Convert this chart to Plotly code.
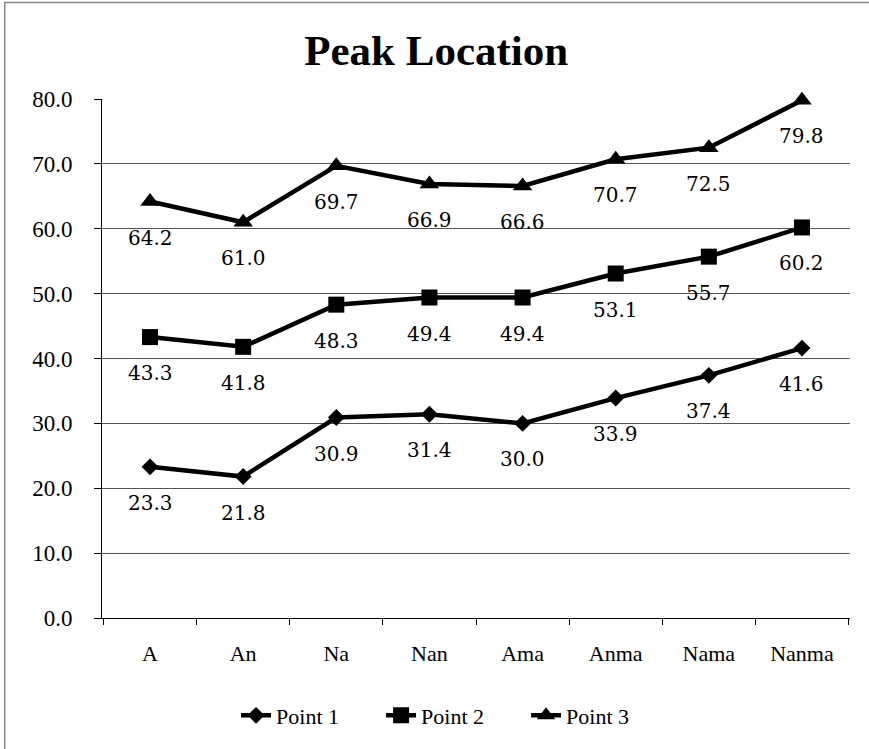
import plotly.graph_objects as go

categories = ["A", "An", "Na", "Nan", "Ama", "Anma", "Nama", "Nanma"]
point1 = [23.3, 21.8, 30.9, 31.4, 30.0, 33.9, 37.4, 41.6]
point2 = [43.3, 41.8, 48.3, 49.4, 49.4, 53.1, 55.7, 60.2]
point3 = [64.2, 61.0, 69.7, 66.9, 66.6, 70.7, 72.5, 79.8]
series_names = ["Point 1", "Point 2", "Point 3"]
y_ticks = [0, 10, 20, 30, 40, 50, 60, 70, 80]

series = [point1, point2, point3]
symbols = ["diamond", "square", "triangle-up"]
sizes = [13, 16, 17]

fig = go.Figure()
for name, vals, sym, sz in zip(series_names, series, symbols, sizes):
    fig.add_trace(go.Scatter(
        x=categories, y=vals, name=name, mode="lines+markers",
        line=dict(color="black", width=4.5),
        marker=dict(symbol=sym, size=sz, color="black"),
        cliponaxis=False, hoverinfo="x+y",
    ))

annotations = []
for vals in series:
    for c, v in zip(categories, vals):
        annotations.append(dict(
            x=c, y=v, xref="x", yref="y", text=f"{v:.1f}", showarrow=False,
            yshift=-36, font=dict(family="DejaVu Serif, serif", size=20, color="black"),
        ))

fig.update_layout(
    width=869, height=749,
    margin=dict(l=102, r=19, t=99, b=129),
    paper_bgcolor="white", plot_bgcolor="white",
    title=dict(text="<b>Peak Location</b>", x=0.502, xanchor="center",
               y=1 - 50 / 749, yanchor="middle", yref="container",
               font=dict(family="Liberation Serif, serif", size=43, color="black")),
    showlegend=True,
    legend=dict(orientation="h", x=0.47, xanchor="center", y=-0.188, yanchor="middle",
                font=dict(family="Liberation Serif, serif", size=22, color="black"),
                entrywidth=100, entrywidthmode="pixels",
                bgcolor="rgba(0,0,0,0)"),
    annotations=annotations,
    shapes=[dict(type="rect", xref="paper", yref="paper",
                 x0=-0.13, x1=1.2, y0=-0.3, y1=1.186,
                 line=dict(color="#888888", width=1.5), fillcolor="rgba(0,0,0,0)",
                 layer="below")],
)

fig.update_xaxes(
    type="category", categoryorder="array", categoryarray=categories,
    showline=True, linecolor="black", linewidth=1,
    ticks="outside", tickson="boundaries", ticklen=6, tickcolor="black",
    showgrid=False, ticklabelstandoff=16,
    tickfont=dict(family="Liberation Serif, serif", size=22, color="black"),
)
fig.update_yaxes(
    range=[0, 80], tickvals=y_ticks, tickformat=".1f",
    showline=True, linecolor="black", linewidth=1,
    ticks="outside", ticklen=7, tickcolor="black",
    showgrid=True, gridcolor="#555555", gridwidth=1,
    zeroline=False, ticklabelstandoff=17,
    tickfont=dict(family="Liberation Serif, serif", size=23, color="black"),
)

fig.write_html("out.html")
